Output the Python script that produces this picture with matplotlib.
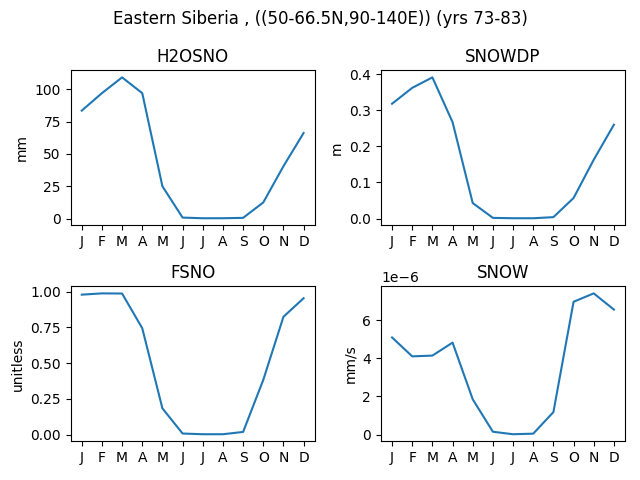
import numpy as np
import matplotlib.pyplot as plt

months = ["J", "F", "M", "A", "M", "J", "J", "A", "S", "O", "N", "D"]

h2osno = [83.5, 97.0, 109.2, 97.0, 25.0, 0.8, 0.3, 0.3, 0.6, 12.5, 40.5, 66.2]
snowdp = [0.318, 0.362, 0.391, 0.267, 0.043, 0.002, 0.001, 0.001, 0.004, 0.057, 0.163, 0.260]
fsno = [0.979, 0.988, 0.987, 0.744, 0.183, 0.007, 0.002, 0.002, 0.018, 0.382, 0.824, 0.954]
snow = [5.09e-6, 4.10e-6, 4.14e-6, 4.82e-6, 1.85e-6, 0.15e-6, 0.02e-6, 0.05e-6, 1.18e-6, 6.96e-6, 7.40e-6, 6.55e-6]

names = ["H2OSNO", "SNOWDP", "FSNO", "SNOW"]
units = ["mm", "m", "unitless", "mm/s"]
series = [h2osno, snowdp, fsno, snow]

fig, axes = plt.subplots(2, 2, figsize=(6.4, 4.8))
fig.suptitle("Eastern Siberia , ((50-66.5N,90-140E)) (yrs 73-83)")

x = np.arange(12)
for ax, name, unit, vals in zip(axes.flat, names, units, series):
    ax.plot(x, vals)
    ax.set_title(name)
    ax.set_ylabel(unit)
    ax.set_xticks(x)
    ax.set_xticklabels(months)

fig.tight_layout()
plt.savefig("out.png", dpi=100)
